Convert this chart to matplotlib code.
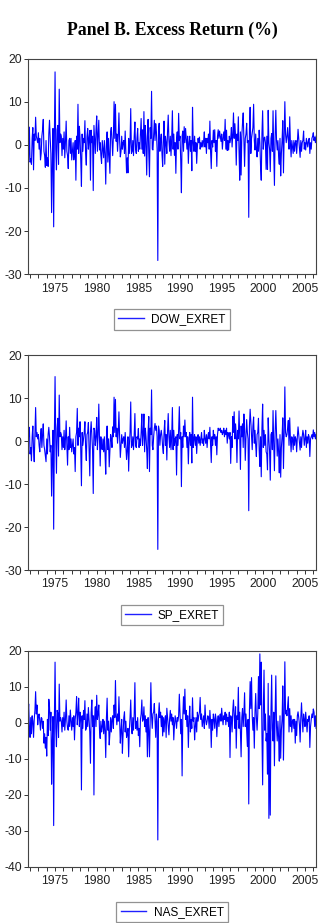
import matplotlib
matplotlib.use("Agg")
import matplotlib.pyplot as plt
import numpy as np
import pandas as pd

plt.rcParams["font.family"] = ["Liberation Sans", "DejaVu Sans"]
plt.rcParams["axes.unicode_minus"] = False

# monthly excess returns (%), starting 1971-10
dow = [
    3.2, -3.5, 4.1, -4.0, -3.2, -4.5, 1.5, 4.0, -5.8, 2.5, 1.0, 6.4,
    2.0, 1.2, 0.5, 2.8, -1.0, 1.5, -3.5, -2.0, 2.0, 3.5, 5.9, -1.5,
    -2.5, -5.2, 1.0, -4.8, -3.0, -5.0, 2.5, 5.7, 1.5, -2.0, -15.7, -4.0,
    3.8, -19.0, 2.0, 16.9, -1.0, -5.8, 3.5, 4.5, -4.5, 12.9, 0.5, 2.5,
    2.0, -2.5, 1.5, -1.0, 3.0, -3.0, 0.8, 5.5, -1.5, -2.5, -5.5, 1.0,
    1.5, -2.0, 1.5, -3.5, -1.5, 0.5, -3.5, -2.0, 1.0, -8.2, 2.0, -1.0,
    9.4, -2.0, 4.3, 1.5, -3.5, -9.6, 2.5, -1.5, 1.5, 0.5, 5.6, -2.0,
    -4.7, 2.0, 3.8, -1.0, 1.5, 3.3, -8.2, 3.4, 0.5, 2.0, -10.6, 4.5,
    1.0, -2.0, 3.5, 6.7, -1.5, 2.0, 5.7, -1.2, 0.5, -2.5, -4.3, 1.0,
    -1.0, -3.0, 1.0, -2.0, -9.1, 0.5, 3.0, -4.0, 1.5, -2.5, -6.6, 3.0,
    4.0, 1.0, -2.5, 2.0, 10.0, 1.5, 9.4, 0.8, 2.5, -1.5, 2.0, 7.4,
    1.0, -2.8, -1.5, 2.0, -1.0, 0.5, 1.0, -2.0, 3.2, -1.5, -6.5, -3.0,
    -6.5, 1.5, -2.0, 0.5, 8.4, -2.0, -1.5, 1.0, -2.5, 2.0, 5.3, -1.0,
    -2.0, 1.5, 3.8, -1.5, 0.5, -1.0, 2.5, 6.1, -1.0, 3.5, -2.0, 7.7,
    -2.6, 4.5, 0.5, -7.0, 2.0, 5.9, -2.0, -7.4, 4.0, 1.5, 12.4, -1.0,
    -1.2, 2.0, 5.7, 1.0, 4.9, 3.0, -1.0, -26.8, 3.5, 5.0, -1.5, 1.0,
    2.5, -2.0, -5.0, 1.5, 5.5, -4.5, 2.0, 0.5, -2.0, 3.0, 6.9, 1.0,
    -1.5, 2.0, -2.5, 1.5, 7.9, -1.0, 2.5, -2.4, 0.5, -6.6, 1.5, 3.0,
    -1.0, 7.3, 1.0, 2.0, -3.5, -11.1, 2.0, 3.2, -1.5, 4.2, 0.5, 3.8,
    1.5, -1.0, 2.0, -4.3, 0.5, 2.0, -1.5, 1.0, -6.0, 8.7, 0.5, -1.5,
    2.0, -1.5, 0.5, -4.3, -0.5, 1.5, 0.5, 1.8, -1.0, 0.5, -0.5, 1.0,
    -0.5, 1.0, 3.0, -0.5, 1.5, -2.0, 1.5, 0.5, 2.5, -1.0, 5.5, -1.5,
    -5.5, 1.0, -0.5, 3.4, 0.5, 3.5, -1.5, 1.0, -5.0, 2.0, 3.5, 1.5,
    3.2, 2.0, 0.8, 2.5, -1.0, 1.5, 3.0, 1.0, 5.9, -1.0, 3.4, -1.3,
    1.0, -1.2, 2.0, 0.5, 1.5, 4.0, -0.5, 2.5, 7.4, 1.5, 4.9, 2.0,
    -4.7, 2.5, 1.0, 6.5, -1.5, -8.2, 3.0, -7.0, 2.0, 5.0, 7.4, 1.0,
    -5.0, 1.5, 2.5, 5.0, 0.5, 1.0, -16.8, 3.5, 8.7, -2.0, 1.5, 2.7,
    4.0, 9.4, 1.0, -1.2, 2.5, -1.0, -2.8, 1.5, -1.5, 3.4, 0.5, -5.0,
    -8.2, 2.5, 7.9, -1.0, 1.5, 1.8, 0.5, -5.7, 2.0, -5.7, 8.0, 0.5,
    -1.0, -6.2, 1.5, 2.6, -1.5, 7.9, -2.0, -9.4, 2.0, 8.0, 1.0, -1.2,
    1.0, -2.5, -4.5, 1.5, -7.2, -2.0, 1.0, 5.6, -6.5, 2.0, 10.0, 2.5,
    0.5, 2.0, 4.0, 1.0, -1.0, 6.5, 0.5, -2.8, 1.0, -0.5, -2.0, 1.0,
    -1.5, 0.5, 1.0, -2.0, 0.5, 3.6, 1.5, -0.5, -2.9, 1.0, -1.5, 0.5,
    1.0, 3.2, -1.0, 0.5, -1.2, 1.5, 0.5, -0.5, 1.0, 1.5, -2.0, 0.5,
    -1.0, 1.5, 2.0, 2.8, 1.0, 1.8, 0.5, 2.0,
]

sp = [
    2.0, 1.0, 3.2, -3.0, -1.5, -4.6, 1.0, 3.5, -2.0, -4.8, 1.5, 7.8,
    1.0, 2.0, 0.5, 1.5, -1.0, -2.5, 1.0, 2.9, -1.5, 1.5, 4.0, -1.0,
    -2.0, -3.5, -4.8, 0.5, -3.0, 1.5, 3.2, 1.0, -2.5, -1.0, -12.8, -3.0,
    2.5, -20.5, 1.5, 15.0, 0.5, -7.5, 3.0, 5.3, -3.5, 10.7, 1.0, 2.0,
    1.5, -2.0, 1.0, -1.5, 2.5, -2.0, 0.5, 4.7, -1.0, -5.6, 1.0, -2.0,
    3.2, -1.5, 0.5, -2.5, -1.0, 0.5, -3.0, -1.5, -7.1, 1.0, 2.0, 7.6,
    -1.0, 3.0, 1.0, 4.5, -2.0, -10.4, 2.0, -1.0, 0.5, 2.0, 4.5, -1.5,
    -4.5, 1.5, 2.0, 4.3, -1.5, -8.1, 2.0, 4.5, 1.0, -2.0, -12.2, 3.0,
    2.5, -1.0, 1.0, 5.5, -2.0, 1.5, 8.6, 0.5, -5.8, 1.0, -1.5, -2.0,
    0.5, -2.5, 1.0, -3.0, -7.7, 1.0, 3.5, -2.0, 0.5, -6.0, -2.0, 1.5,
    0.5, -1.5, 3.3, 1.0, 10.2, 2.0, 9.7, 1.0, 3.0, -0.5, 2.0, 6.8,
    1.0, -3.8, -1.0, 1.5, -0.5, 0.5, 1.0, -1.5, 2.0, -1.0, -4.3, -2.0,
    1.0, -7.0, -1.0, 2.0, 9.1, -1.5, -1.0, 1.0, -2.0, 1.5, 6.4, -1.0,
    -1.5, 1.0, 0.5, 2.9, -1.5, 0.5, -1.0, 2.0, 6.3, -1.0, 1.5, 6.3,
    -2.5, 3.0, 1.0, -2.0, -6.4, 2.0, 5.7, -7.1, 3.0, 1.5, 11.9, -1.0,
    -2.0, 1.0, 3.0, 4.1, 2.5, 3.5, 1.0, -25.2, 3.5, 2.5, -1.0, 1.5,
    2.5, 1.0, -1.5, -2.9, 2.0, 4.8, -1.0, 1.5, -4.4, 2.0, 6.4, 1.0,
    -1.5, 2.5, -2.0, 1.0, 7.8, -2.0, 2.5, -1.0, 0.5, 1.0, -7.9, 1.5,
    -1.0, 2.5, 8.0, 0.5, 2.0, -10.6, 1.0, -1.5, 3.5, 1.0, 4.9, 1.0,
    2.0, -1.5, 1.0, -5.3, 0.5, 2.0, -1.0, 1.5, -5.1, 10.2, -1.5, 0.5,
    1.5, -1.0, 1.0, -2.9, 0.5, 1.5, -0.5, 1.0, -1.0, 0.5, 2.0, -0.5,
    0.5, -1.0, 2.5, 0.5, -0.5, 1.5, -1.5, 1.0, 2.0, 0.5, 3.2, -1.0,
    -5.0, 1.0, -1.0, 2.5, 0.5, 1.5, -1.0, 1.0, -3.2, 1.5, 3.0, 2.5,
    2.5, 3.0, 2.0, 2.5, 1.5, 2.0, 3.0, 1.0, 2.5, 1.5, 3.0, -0.5,
    2.0, 1.5, 0.5, 2.0, -5.2, 1.0, -1.5, 5.7, 2.0, 6.8, 0.5, 4.0,
    1.5, -5.0, 2.5, 0.5, 7.0, 1.0, -6.6, 3.5, 1.0, 4.0, -1.5, 6.3,
    2.5, -4.5, 1.0, 5.0, 2.0, 0.5, -16.2, 3.5, 7.4, 4.5, 1.0, -2.0,
    3.5, 5.6, -0.5, 2.5, -1.0, -3.6, 1.5, 2.0, 5.3, -2.0, -5.9, 1.0,
    -8.3, 3.0, 8.6, -1.5, 2.5, -1.0, 1.5, -2.5, -3.0, -6.7, 5.4, 0.5,
    -2.5, -9.1, 1.5, 2.0, -2.0, 7.1, -1.0, -6.9, 2.0, 7.1, 1.5, -3.5,
    0.5, -2.5, -7.4, 1.5, -8.4, -1.5, 1.0, 5.4, -6.4, 1.5, 12.6, 2.0,
    1.0, 1.5, 3.0, 4.8, -1.0, 5.4, 0.5, -2.5, 1.0, 0.5, -2.0, 1.5,
    -1.0, 1.0, 0.5, -2.5, 1.0, 3.3, 1.5, -0.5, -2.1, 1.0, -1.5, 1.0,
    2.5, 1.5, -1.0, 0.5, 2.5, -1.5, 1.0, -0.5, 1.5, 1.0, -3.6, 0.5,
    1.0, 1.5, 0.5, 2.6, 1.0, 2.0, 0.5, 1.5,
]

nas = [
    2.0, 5.3, -1.0, -4.0, 1.5, -3.0, 2.0, 0.5, -4.0, 1.0, 3.5, 8.7,
    2.5, 5.0, -0.5, 1.8, 2.5, 0.5, -2.0, 1.5, 1.3, -1.5, 0.5, -5.6,
    -3.0, -7.0, -4.0, -9.2, 1.0, -3.5, 6.6, 4.5, -2.0, 3.0, -17.0, -5.0,
    1.8, -28.5, 0.5, 16.9, -1.5, -6.6, 3.5, 2.7, -4.0, 10.8, 0.5, 1.5,
    0.5, -2.5, 1.5, -1.0, 3.0, -2.0, 1.0, 6.4, 0.5, -1.5, -2.0, 2.0,
    -1.0, 3.6, 0.5, -2.0, 1.5, -1.0, 2.0, -4.7, 1.0, 3.0, 7.3, -0.5,
    2.5, 6.9, -1.0, 3.0, 1.5, -18.6, 2.0, -1.5, 3.5, 1.0, 6.2, -2.0,
    -1.5, 2.5, -1.0, 4.3, 1.0, -2.5, -11.2, 3.0, 6.4, -1.0, 2.0, -20.0,
    1.5, 4.5, -1.0, 7.7, 1.0, 2.5, 5.0, -2.0, -4.3, 0.5, -2.5, -1.0,
    1.0, -3.0, 0.5, -2.0, -9.6, 1.5, 6.9, -2.0, 0.5, -6.1, -3.0, 1.5,
    -2.5, 1.0, 2.0, -1.5, 5.0, 1.5, 11.8, 2.0, -0.5, 2.5, 0.5, 7.3,
    1.0, -5.6, -2.0, 1.0, -8.4, -3.0, 1.5, 3.1, -2.5, 0.5, -4.0, -3.0,
    -1.5, -9.4, -2.0, 1.5, 6.4, -1.0, -3.0, 1.5, -2.0, 2.5, 11.2, -1.5,
    0.5, -2.0, 1.5, -3.5, -1.5, -6.6, 1.0, 2.5, 6.4, 0.5, 1.0, 4.5,
    -1.0, 2.0, -2.5, 1.0, -9.4, 1.5, -2.0, -9.4, 1.0, 11.2, 2.0, -1.5,
    2.5, 3.0, 5.4, 1.0, -4.0, 2.5, 0.5, -32.5, 2.0, 5.6, 1.5, 3.0,
    -1.0, 2.0, -3.6, 1.5, -2.5, 1.0, 2.0, -4.0, 4.1, 1.5, -1.0, -3.3,
    1.0, 3.5, 0.5, 2.5, -0.5, 1.5, -4.7, -0.5, 2.0, 0.5, -1.5, 1.5,
    0.5, 2.0, 8.0, 2.5, -3.0, 1.0, -14.7, 1.5, 7.3, 2.5, 9.4, 1.0,
    3.5, -1.0, 2.0, -6.8, 0.5, 4.7, -2.5, 1.0, -1.5, 7.0, 0.5, 1.5,
    -4.7, -1.0, 1.5, -2.5, 3.0, 0.5, 2.0, 3.0, 7.1, 1.0, 2.5, -1.0,
    0.5, 2.0, -1.5, 5.0, 1.0, -0.5, 0.5, 2.0, 1.5, -1.5, 3.5, 0.5,
    -6.8, 1.0, -2.0, 2.5, 1.0, -1.5, 2.5, 1.0, -3.8, 0.5, 2.0, -1.0,
    1.5, 2.5, 0.5, 4.1, 1.5, -0.5, 2.0, 1.0, 3.0, -0.5, 2.5, 0.5,
    1.5, -1.0, 3.0, -9.6, 2.0, 1.5, -2.5, 3.5, 6.4, 2.0, -1.5, 4.5,
    -7.0, 2.0, 1.0, 9.9, -1.5, 3.0, -2.5, -9.4, 1.5, 4.0, -1.0, 2.5,
    8.4, -1.0, 2.5, -2.0, -6.5, 1.0, -22.5, 3.5, 11.5, 4.0, 12.6, 2.0,
    -2.0, 1.5, -7.0, 3.0, 8.2, 1.5, -2.0, 2.5, 12.9, 4.0, 19.2, 5.0,
    16.9, -3.0, -17.2, 3.5, 14.7, -2.0, 2.5, -5.0, -3.0, -14.2, 11.0, -26.5,
    2.0, -25.6, 3.0, 13.3, -1.5, -5.0, 3.0, -11.9, 2.5, 13.1, -1.0, -5.0,
    0.5, -4.0, -10.6, 2.0, -9.8, -2.0, 1.0, 10.3, -10.3, 2.0, 17.0, 2.5,
    3.5, 2.0, 4.5, 7.3, -2.5, 4.0, -1.0, 2.0, -2.5, 0.5, 1.0, -1.5,
    1.0, -5.6, 0.5, -3.5, 2.0, 3.1, 1.5, -0.5, -5.3, 1.5, 5.6, 1.0,
    -2.5, 2.5, 1.0, -1.0, 3.0, 0.5, -2.5, 1.0, 0.5, 2.0, -6.8, -1.0,
    1.0, 2.5, 1.5, 3.9, 3.0, -1.0, 2.0, -1.5,
]

dates = pd.date_range("1971-10-01", periods=len(dow), freq="MS")
t = dates.year + (dates.month - 1) / 12.0

panels = [
    (dow, "DOW_EXRET", [-30, -20, -10, 0, 10, 20]),
    (sp, "SP_EXRET", [-30, -20, -10, 0, 10, 20]),
    (nas, "NAS_EXRET", [-40, -30, -20, -10, 0, 10, 20]),
]
boxes = [
    [0.088, 0.7028, 0.906, 0.2338],
    [0.088, 0.3824, 0.906, 0.2329],
    [0.088, 0.0607, 0.906, 0.2340],
]

fig = plt.figure(figsize=(3.18, 9.23), dpi=100)
fig.text(0.541, 0.967, "Panel B. Excess Return (%)", ha="center", va="center",
         fontsize=12.8, fontweight="bold", family="Liberation Serif")

for (vals, name, yt), box in zip(panels, boxes):
    ax = fig.add_axes(box)
    ax.plot(t, vals, color="#0000ff", lw=0.8, label=name)
    ax.set_xlim(t[0], t[-1])
    ax.set_ylim(yt[0], yt[-1])
    ax.set_yticks(yt)
    ax.set_xticks([1975, 1980, 1985, 1990, 1995, 2000, 2005])
    ax.set_xticks(range(1972, 2007), minor=True)
    ax.tick_params(axis="both", which="both", direction="out", length=3,
                   width=0.7, labelsize=8.8, colors="#333333", labelcolor="#222222")
    ax.tick_params(axis="x", pad=3)
    ax.tick_params(axis="y", pad=1.5)
    for s in ax.spines.values():
        s.set_color("#444444")
        s.set_linewidth(0.8)
    leg = ax.legend(loc="upper center", bbox_to_anchor=(0.5, -0.135), ncol=1,
                    fontsize=8.5, frameon=True, fancybox=False, handlelength=2.2,
                    borderpad=0.35, handletextpad=0.6)
    leg.get_frame().set_edgecolor("#777777")
    leg.get_frame().set_linewidth(0.9)
    for h in leg.get_lines():
        h.set_linewidth(1.0)
        h.set_color("#2020ff")

fig.savefig("out.png", dpi=100)
